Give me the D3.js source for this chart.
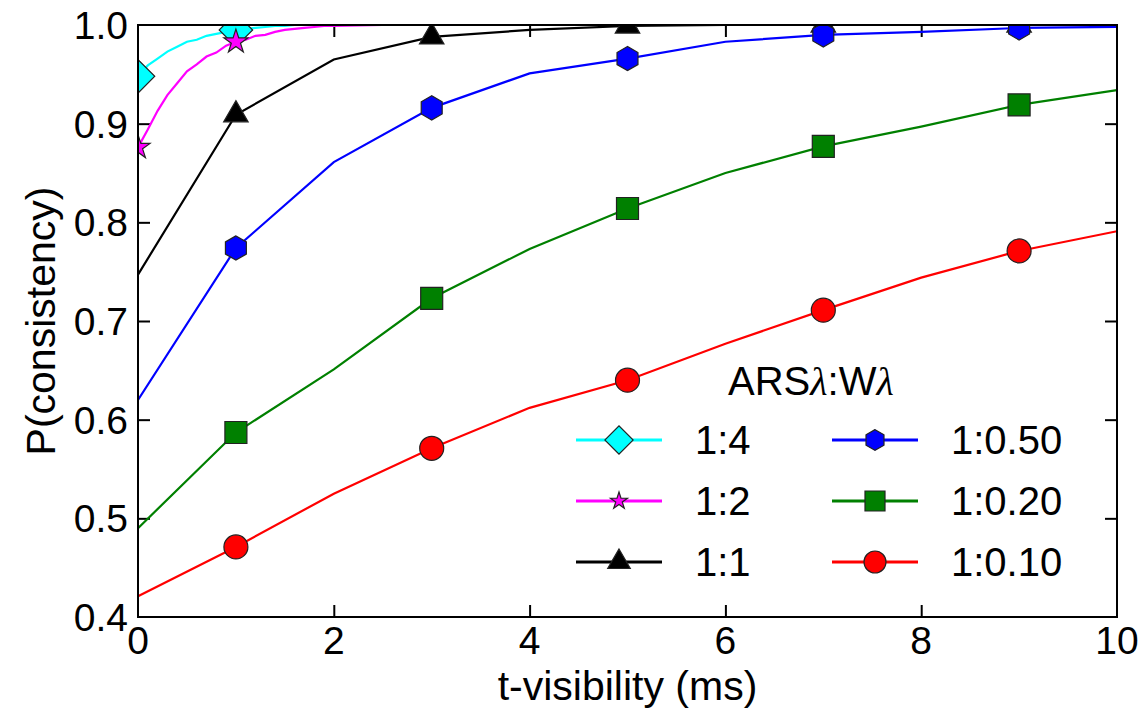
<!DOCTYPE html>
<html lang="en">
  <head>
    <meta charset="UTF-8" />
    <title>P(consistency) vs t-visibility</title>
    <script src="https://d3js.org/d3.v7.min.js"></script>
    <style>
      body {
        margin: 0;
        background: #fff;
      }
      svg {
        display: block;
        font-family: "Liberation Sans", Arial, Helvetica, sans-serif;
      }
    </style>
  </head>
  <body>
    <svg></svg>
    <script>
      // data
      let tGrid = [0, 1, 2, 3, 4, 5, 6, 7, 8, 9, 10];
      let markerT = [1, 3, 5, 7, 9];

      let tFine = [0, 0.1, 0.2, 0.3, 0.4, 0.5, 0.6, 0.7, 0.8, 0.9, 1.0, 1.1, 1.2,
        1.3, 1.4, 1.5, 1.6, 1.7, 1.8, 1.9, 2.0, 2.5, 10];
      let p1to4 = [0.948, 0.959, 0.966, 0.973, 0.978, 0.983, 0.985, 0.989, 0.991,
        0.993, 0.995, 0.996, 0.997, 0.998, 0.999, 0.999, 1.0, 1.0, 1.0, 1.0, 1.0, 1.0, 1.0];
      let p1to2 = [0.876, 0.894, 0.913, 0.929, 0.941, 0.953, 0.960, 0.968, 0.972,
        0.979, 0.983, 0.985, 0.989, 0.990, 0.993, 0.995, 0.996, 0.997, 0.998, 0.999,
        0.999, 1.0, 1.0];
      let p1to1 = [0.747, 0.909, 0.965, 0.988, 0.995, 0.999, 1.0, 1.0, 1.0, 1.0, 1.0];
      let p1to050 = [0.62, 0.774, 0.861, 0.916, 0.951, 0.966, 0.983, 0.99, 0.993, 0.997, 0.998];
      let p1to020 = [0.49, 0.587, 0.651, 0.723, 0.773, 0.814, 0.85, 0.877, 0.897, 0.919, 0.934];
      let p1to010 = [0.421, 0.471, 0.525, 0.571, 0.612, 0.64, 0.677, 0.711, 0.744, 0.771, 0.791];

      let xTicks = [0, 2, 4, 6, 8, 10];
      let yTicks = [0.4, 0.5, 0.6, 0.7, 0.8, 0.9, 1.0];

      let hexagon = {
        draw: function (ctx, size) {
          let r = Math.sqrt(size / 2.598);
          for (let i = 0; i < 6; i++) {
            let a = Math.PI / 2 + (i * Math.PI) / 3;
            if (i == 0) ctx.moveTo(r * Math.cos(a), -r * Math.sin(a));
            else ctx.lineTo(r * Math.cos(a), -r * Math.sin(a));
          }
          ctx.closePath();
        },
      };

      let series = [
        { name: "1:4", t: tFine, p: p1to4, marks: [0, 1], color: "#00ffff", shape: d3.symbolSquare, rot: 45, size: 560, lsize: 400 },
        { name: "1:2", t: tFine, p: p1to2, marks: [0, 1], color: "#ff00ff", shape: d3.symbolStar, rot: 0, size: 180, lsize: 90 },
        { name: "1:1", t: tGrid, p: p1to1, marks: markerT, color: "#000000", shape: d3.symbolTriangle, rot: 0, size: 260, lsize: 220 },
        { name: "1:0.50", t: tGrid, p: p1to050, marks: markerT, color: "#0000ff", shape: hexagon, rot: 0, size: 380, lsize: 280 },
        { name: "1:0.20", t: tGrid, p: p1to020, marks: markerT, color: "#008000", shape: d3.symbolSquare, rot: 0, size: 484, lsize: 400 },
        { name: "1:0.10", t: tGrid, p: p1to010, marks: markerT, color: "#ff0000", shape: d3.symbolCircle, rot: 0, size: 452, lsize: 380 },
      ];

      let width = 1144,
        height = 710;
      let margin = { left: 138, right: 27, top: 25, bottom: 93 };

      let svg = d3.select("svg").attr("width", width).attr("height", height);

      let x = d3.scaleLinear().domain([0, 10]).range([margin.left, width - margin.right]);
      let y = d3.scaleLinear().domain([0.4, 1.0]).range([height - margin.bottom, margin.top]);

      svg
        .append("clipPath")
        .attr("id", "plotclip")
        .append("rect")
        .attr("x", x(0))
        .attr("y", y(1))
        .attr("width", x(10) - x(0))
        .attr("height", y(0.4) - y(1));

      // inward ticks on all four sides
      let tickLen = 12;
      let inner = (g) => {
        g.select(".domain").remove();
        g.selectAll(".tick text").remove();
        g.selectAll(".tick line").attr("stroke", "#000").attr("stroke-width", 2);
      };
      let innerX = xTicks.slice(1, -1),
        innerY = yTicks.slice(1, -1);
      svg.append("g").attr("transform", `translate(0,${y(0.4)})`)
        .call(d3.axisBottom(x).tickValues(innerX).tickSizeInner(-tickLen)).call(inner);
      svg.append("g").attr("transform", `translate(0,${y(1)})`)
        .call(d3.axisTop(x).tickValues(innerX).tickSizeInner(-tickLen)).call(inner);
      svg.append("g").attr("transform", `translate(${x(0)},0)`)
        .call(d3.axisLeft(y).tickValues(innerY).tickSizeInner(-tickLen)).call(inner);
      svg.append("g").attr("transform", `translate(${x(10)},0)`)
        .call(d3.axisRight(y).tickValues(innerY).tickSizeInner(-tickLen)).call(inner);

      // tick labels
      svg.append("g")
        .selectAll("text")
        .data(xTicks)
        .join("text")
        .attr("x", (d) => x(d))
        .attr("y", y(0.4) + 37)
        .attr("text-anchor", "middle")
        .attr("font-size", 39)
        .text((d) => d);
      svg.append("g")
        .selectAll("text")
        .data(yTicks)
        .join("text")
        .attr("x", x(0) - 10)
        .attr("y", (d) => y(d))
        .attr("dy", "0.36em")
        .attr("text-anchor", "end")
        .attr("font-size", 39)
        .text((d) => d.toFixed(1));

      // axis titles
      svg.append("text")
        .attr("x", (x(0) + x(10)) / 2)
        .attr("y", 700)
        .attr("text-anchor", "middle")
        .attr("font-size", 41)
        .text("t-visibility (ms)");
      svg.append("text")
        .attr("transform", `translate(55,${(y(0.4) + y(1)) / 2}) rotate(-90)`)
        .attr("text-anchor", "middle")
        .attr("font-size", 41)
        .text("P(consistency)");

      let line = d3.line().x((d) => x(d[0])).y((d) => y(d[1]));
      let plot = svg.append("g").attr("clip-path", "url(#plotclip)");

      series.forEach((s) => {
        let pts = s.t.map((t, i) => [t, s.p[i]]);
        plot.append("path")
          .datum(pts)
          .attr("fill", "none")
          .attr("stroke", s.color)
          .attr("stroke-width", 2.2)
          .attr("d", line);
        plot.append("g")
          .selectAll("path")
          .data(pts.filter((d) => s.marks.includes(d[0])))
          .join("path")
          .attr("transform", (d) => `translate(${x(d[0])},${y(d[1])}) rotate(${s.rot})`)
          .attr("d", d3.symbol(s.shape, s.size))
          .attr("fill", s.color)
          .attr("stroke", "#222")
          .attr("stroke-width", 1.2);
      });

      // frame
      svg.append("rect")
        .attr("x", x(0))
        .attr("y", y(1))
        .attr("width", x(10) - x(0))
        .attr("height", y(0.4) - y(1))
        .attr("fill", "none")
        .attr("stroke", "#000")
        .attr("stroke-width", 2);

      // legend
      let title = svg.append("text").attr("x", 728).attr("y", 395).attr("font-size", 40);
      title.append("tspan").text("ARS");
      title.append("tspan").attr("font-family", "'Liberation Serif', serif").attr("font-style", "italic").text("λ");
      title.append("tspan").text(":W");
      title.append("tspan").attr("font-family", "'Liberation Serif', serif").attr("font-style", "italic").text("λ");

      let colX = [576, 832],
        rowY = [440, 501, 562];
      let legend = svg.append("g")
        .selectAll("g")
        .data(series)
        .join("g")
        .attr("transform", (d, i) => `translate(${colX[Math.floor(i / 3)]},${rowY[i % 3]})`);
      legend.append("line")
        .attr("x1", 0)
        .attr("x2", 86)
        .attr("stroke", (d) => d.color)
        .attr("stroke-width", 3);
      legend.append("path")
        .attr("transform", (d) => `translate(43,0) rotate(${d.rot})`)
        .attr("d", (d) => d3.symbol(d.shape, d.lsize)())
        .attr("fill", (d) => d.color)
        .attr("stroke", "#222")
        .attr("stroke-width", 1.2);
      legend.append("text")
        .attr("x", 119)
        .attr("dy", "0.36em")
        .attr("font-size", 40)
        .text((d) => d.name);
    </script>
  </body>
</html>
